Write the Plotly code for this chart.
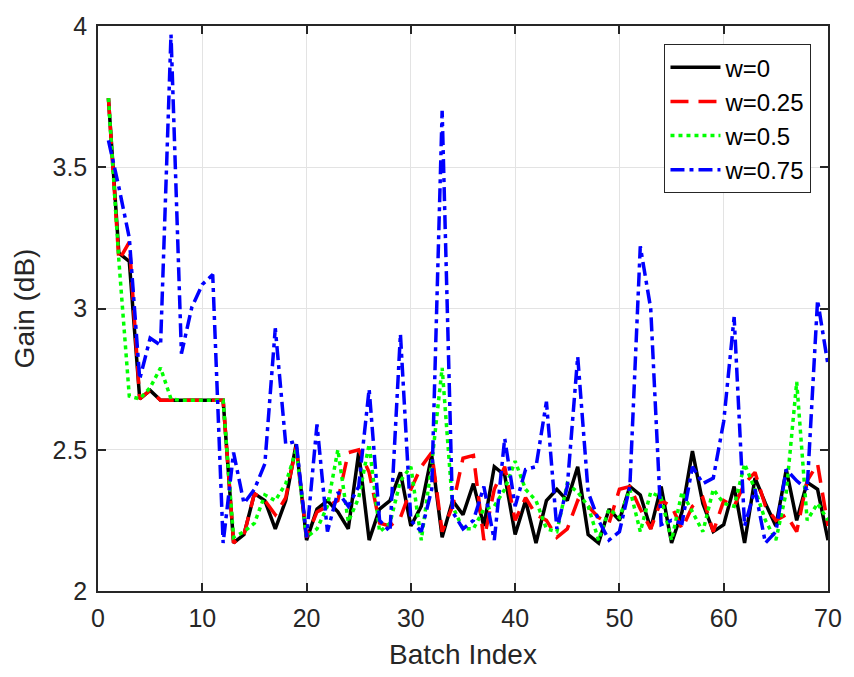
import plotly.graph_objects as go

batch = list(range(1, 71))

w0 = [3.745, 3.196, 3.167, 2.68, 2.71, 2.675, 2.675, 2.675, 2.675, 2.675,
      2.675, 2.675, 2.17, 2.20, 2.345, 2.32, 2.22, 2.32, 2.52, 2.18,
      2.29, 2.32, 2.28, 2.22, 2.49, 2.18, 2.29, 2.32, 2.42, 2.23,
      2.30, 2.48, 2.19, 2.32, 2.27, 2.38, 2.23, 2.44, 2.41, 2.20,
      2.32, 2.17, 2.32, 2.36, 2.32, 2.44, 2.20, 2.17, 2.29, 2.25,
      2.37, 2.34, 2.22, 2.37, 2.17, 2.28, 2.495, 2.31, 2.21, 2.235,
      2.37, 2.17, 2.40, 2.31, 2.23, 2.43, 2.25, 2.385, 2.36, 2.18]

w025 = [3.745, 3.17, 3.235, 2.68, 2.71, 2.675, 2.675, 2.675, 2.675, 2.675,
        2.675, 2.675, 2.17, 2.20, 2.345, 2.32, 2.27, 2.33, 2.51, 2.19,
        2.28, 2.30, 2.32, 2.49, 2.50, 2.42, 2.24, 2.23, 2.26, 2.36,
        2.44, 2.49, 2.21, 2.30, 2.47, 2.48, 2.18, 2.36, 2.44, 2.25,
        2.33, 2.27, 2.25, 2.19, 2.22, 2.32, 2.30, 2.26, 2.24, 2.36,
        2.37, 2.29, 2.22, 2.32, 2.30, 2.22, 2.30, 2.33, 2.21, 2.32,
        2.30, 2.38, 2.42, 2.30, 2.25, 2.27, 2.21, 2.39, 2.45, 2.23]

w05 = [3.745, 3.17, 2.69, 2.68, 2.72, 2.79, 2.68, 2.675, 2.675, 2.675,
       2.675, 2.675, 2.19, 2.21, 2.24, 2.34, 2.32, 2.38, 2.50, 2.19,
       2.22, 2.30, 2.50, 2.245, 2.33, 2.52, 2.21, 2.24, 2.39, 2.44,
       2.18, 2.45, 2.79, 2.30, 2.22, 2.22, 2.29, 2.30, 2.36, 2.46,
       2.36, 2.32, 2.22, 2.21, 2.38, 2.35, 2.30, 2.18, 2.29, 2.26,
       2.36, 2.21, 2.35, 2.33, 2.18, 2.35, 2.28, 2.21, 2.36, 2.31,
       2.30, 2.45, 2.36, 2.25, 2.18, 2.35, 2.74, 2.25, 2.31, 2.25]

w075 = [3.595, 3.43, 3.25, 2.75, 2.895, 2.87, 3.97, 2.84, 3.005, 3.085,
        3.12, 2.17, 2.49, 2.31, 2.36, 2.45, 2.93, 2.52, 2.53, 2.19,
        2.59, 2.21, 2.35, 2.30, 2.37, 2.715, 2.25, 2.21, 2.91, 2.25,
        2.21, 2.36, 3.70, 2.28, 2.22, 2.25, 2.37, 2.18, 2.54, 2.30,
        2.43, 2.44, 2.67, 2.22, 2.37, 2.83, 2.35, 2.25, 2.18, 2.21,
        2.37, 3.22, 3.00, 2.235, 2.25, 2.24, 2.44, 2.38, 2.40, 2.60,
        2.97, 2.23, 2.36, 2.17, 2.21, 2.43, 2.39, 2.36, 3.03, 2.80]

series = [
    ("w=0", w0, "#000000", "solid"),
    ("w=0.25", w025, "#ff0000", "18px,10px"),
    ("w=0.5", w05, "#00ff00", "4px,4px"),
    ("w=0.75", w075, "#0000ff", "14px,5px,4px,5px"),
]

x_ticks = [0, 10, 20, 30, 40, 50, 60, 70]
y_ticks = [2, 2.5, 3, 3.5, 4]
y_tick_labels = ["2", "2.5", "3", "3.5", "4"]

FONT = "Liberation Sans, Arial, sans-serif"

fig = go.Figure()
for name, vals, color, dash in series:
    fig.add_trace(go.Scatter(x=batch, y=vals, mode="lines", name=name,
                             line=dict(color=color, width=3.5, dash=dash)))

axis_common = dict(showline=True, linecolor="#262626", linewidth=1.5, mirror="ticks",
                   ticks="inside", ticklen=8, tickwidth=1.5, tickcolor="#262626",
                   showgrid=True, gridcolor="#e3e3e3", gridwidth=1, zeroline=False,
                   ticklabelstandoff=4,
                   tickfont=dict(family=FONT, size=25, color="#262626"))

fig.update_xaxes(range=[0, 70], tickvals=x_ticks,
                 title=dict(text="Batch Index", font=dict(family=FONT, size=28, color="#262626"), standoff=14),
                 **axis_common)
fig.update_yaxes(range=[2, 4], tickvals=y_ticks, ticktext=y_tick_labels,
                 title=dict(text="Gain (dB)", font=dict(family=FONT, size=28, color="#262626"), standoff=10),
                 **axis_common)

fig.update_layout(
    width=854, height=677,
    margin=dict(l=98, r=18, t=17, b=84),
    plot_bgcolor="white", paper_bgcolor="white",
    legend=dict(x=0.776, y=0.968, xanchor="left", yanchor="top",
                bgcolor="white", bordercolor="#262626", borderwidth=1,
                font=dict(family=FONT, size=24, color="#000000"),
                tracegroupgap=0, itemwidth=50),
    showlegend=True,
)

fig.write_html("out.html")
